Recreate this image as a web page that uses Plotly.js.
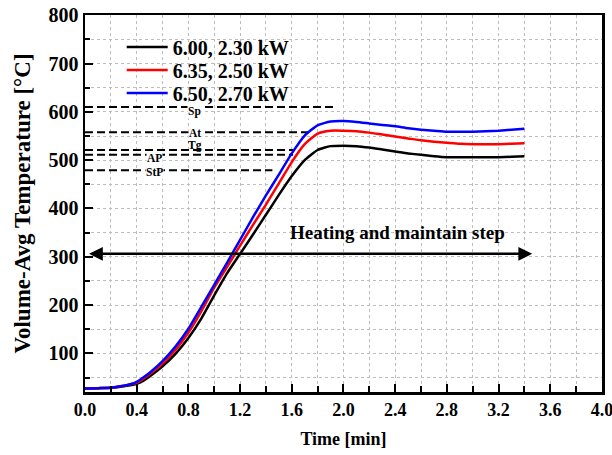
<!DOCTYPE html>
<html><head><meta charset="utf-8">
<script src="https://cdn.plot.ly/plotly-3.0.1.min.js"></script>
<style>body{margin:0;background:#fff}#c{width:612px;height:455px}</style>
</head><body><div id="c"></div>
<script>
const time   = [0,0.1,0.2,0.25,0.3,0.35,0.4,0.45,0.5,0.6,0.7,0.8,0.9,1.0,1.1,1.2,1.3,1.4,1.5,1.6,1.7,1.8,1.9,2.0,2.1,2.2,2.3,2.4,2.5,2.6,2.7,2.8,2.9,3.0,3.1,3.2,3.3,3.4];
const tBlack = [27,28,29,30,32,34,37,43,52,73,99,132,172,220,266,306,346,387,428,467,500,521,529,530,529,526,522,518,514,511,508,506,506,506,506,506,507,508];
const tRed   = [27,28,29,31,33,36,39,47,57,79,107,143,187,236,279,323,366,408,452,496,533,555,561,561,560,557,553,549,545,541,538,536,534,533,533,533,534,535];
const tBlue  = [27,28,29,31,33,36,41,50,60,84,114,151,196,242,288,335,382,427,470,514,551,572,580,581,579,576,573,570,566,563,561,559,559,559,560,561,563,565];
const seriesNames  = ['6.00, 2.30 kW','6.35, 2.50 kW','6.50, 2.70 kW'];
const seriesColors = ['#000000','#ff0000','#0000ff'];

const refNames  = ['Sp','At','Tg','AP','StP'];
const refValues = [610, 558, 521, 511, 479];
const refEnds   = [1.95, 1.76, 1.61, 1.61, 1.45];

const arrowY = 306, arrowX0 = 0.02, arrowX1 = 3.46;
const stepLabel = 'Heating and maintain step';
</script>
<script>
const seriesData = [tBlack, tRed, tBlue];
const F = 'Liberation Serif, Times New Roman, serif';
const traces = [];
refNames.forEach((n,i)=>{
  traces.push({x:[0, refEnds[i]], y:[refValues[i], refValues[i]], mode:'lines', showlegend:false,
    line:{color:'#000', width:2, dash:'8px,4px'}, hoverinfo:'skip'});
});
const legendIds = ['legend','legend2','legend3'];
seriesData.forEach((d,i)=>{
  traces.push({x:time, y:d, mode:'lines', name:'<b>'+seriesNames[i]+'</b>', legend:legendIds[i],
    line:{color:seriesColors[i], width:2.5, shape:'spline', smoothing:0.5}});
});

const refLabelPos = {Sp:[0.85,600,true], At:[0.85,557,true], Tg:[0.85,530,false], AP:[0.54,505,true], StP:[0.54,476,true]};
const annotations = refNames.map(n=>({x:refLabelPos[n][0], y:refLabelPos[n][1], xref:'x', yref:'y', text:'<b>'+n+'</b>',
  showarrow:false, font:{family:F, size:11.5, color:'#000'}, bgcolor: refLabelPos[n][2] ? '#fff' : 'rgba(0,0,0,0)', borderpad:0}));
annotations.push({x:arrowX1, y:arrowY, ax:arrowX0, ay:arrowY, xref:'x', yref:'y', axref:'x', ayref:'y',
  showarrow:true, arrowhead:2, startarrowhead:2, arrowside:'end+start', arrowwidth:2.5, arrowsize:1.1, startarrowsize:1.1, arrowcolor:'#000', text:''});
annotations.push({x:2.42, y:350, xref:'x', yref:'y', text:'<b>'+stepLabel+'</b>', showarrow:false, font:{family:F, size:19, color:'#000'}});

const legBase = {x:0.071, xanchor:'left', yanchor:'middle', bgcolor:'rgba(0,0,0,0)', font:{family:F, size:20, color:'#000'}, itemwidth:41};
const layout = {
  width:612, height:455, margin:{l:85, r:10, t:15, b:63},
  paper_bgcolor:'#fff', plot_bgcolor:'#fff',
  font:{family:F, color:'#000'},
  showlegend:true,
  legend: Object.assign({}, legBase, {y:0.915}),
  legend2: Object.assign({}, legBase, {y:0.854}),
  legend3: Object.assign({}, legBase, {y:0.793}),
  xaxis:{range:[0,4.0005], tick0:0, dtick:0.4, tickformat:'.1f', ticks:'inside', ticklen:8, tickwidth:2, tickcolor:'#000',
    showline:true, linewidth:2.5, linecolor:'#000', mirror:true, zeroline:false, ticklabeloverflow:'allow',
    showgrid:true, gridcolor:'#bdbdbd', griddash:'dot', gridwidth:1,
    minor:{dtick:0.2, ticks:'inside', ticklen:6, tickwidth:2, tickcolor:'#000', showgrid:true, gridcolor:'#bdbdbd', griddash:'dot'},
    tickfont:{family:F, size:18, weight:'bold'},
    title:{text:'<b>Time [min]</b>', font:{family:F, size:18}, standoff:14}},
  yaxis:{range:[20,800.5], tick0:0, dtick:100, ticks:'inside', ticklen:8, tickwidth:2, tickcolor:'#000',
    showline:true, linewidth:2.5, linecolor:'#000', mirror:true, zeroline:false,
    showgrid:true, gridcolor:'#bdbdbd', griddash:'dot', gridwidth:1,
    minor:{dtick:50, ticks:'inside', ticklen:5, tickwidth:2, tickcolor:'#000', showgrid:true, gridcolor:'#bdbdbd', griddash:'dot'},
    tickfont:{family:F, size:20, weight:'bold'},
    title:{text:'<b>Volume-Avg Temperature [°C]</b>', font:{family:F, size:23}, standoff:12}},
  annotations: annotations
};
Plotly.newPlot('c', traces, layout, {displayModeBar:false, staticPlot:true});
</script>
</body></html>
